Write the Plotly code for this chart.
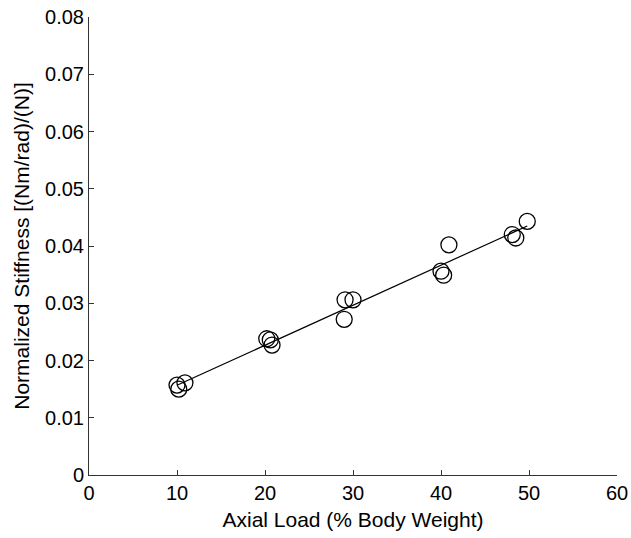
import numpy as np
import plotly.graph_objects as go

load_pct = [10.0, 10.2, 10.9, 20.2, 20.6, 20.8, 29.1, 30.0, 29.0, 40.0, 40.3, 40.9, 48.1, 48.5, 49.8]
stiffness = [0.0157, 0.0150, 0.0161, 0.0238, 0.0236, 0.0227, 0.0306, 0.0306, 0.0272,
             0.0356, 0.0349, 0.0402, 0.0420, 0.0414, 0.0443]

x_ticks = [0, 10, 20, 30, 40, 50, 60]
y_ticks = [0, 0.01, 0.02, 0.03, 0.04, 0.05, 0.06, 0.07, 0.08]
y_tick_text = ["0", "0.01", "0.02", "0.03", "0.04", "0.05", "0.06", "0.07", "0.08"]

slope, intercept = np.polyfit(load_pct, stiffness, 1)
fit_x = [min(load_pct), max(load_pct)]
fit_y = [intercept + slope * v for v in fit_x]

fig = go.Figure()
fig.add_trace(go.Scatter(x=fit_x, y=fit_y, mode="lines",
                         line=dict(color="black", width=1.2), showlegend=False))
fig.add_trace(go.Scatter(x=load_pct, y=stiffness, mode="markers",
                         marker=dict(symbol="circle-open", size=16, color="black",
                                     line=dict(width=1.3, color="black")),
                         showlegend=False))

tick_font = dict(family="Liberation Sans, Arial, sans-serif", size=20, color="black")
title_font = dict(family="Liberation Sans, Arial, sans-serif", size=21, color="black")
fig.update_layout(
    width=631, height=538,
    margin=dict(l=89, r=14, t=17, b=63),
    plot_bgcolor="white", paper_bgcolor="white",
    font=tick_font,
    xaxis=dict(range=[0, 60], tickvals=x_ticks, ticks="inside", ticklen=5,
               showline=True, linecolor="#333", linewidth=1, tickcolor="#333",
               showgrid=False, zeroline=False, mirror=False, automargin=False,
               title=dict(text="Axial Load (% Body Weight)", standoff=9, font=title_font),
               tickfont=tick_font),
    yaxis=dict(range=[0, 0.08], tickvals=y_ticks, ticktext=y_tick_text, ticks="inside", ticklen=5,
               showline=True, linecolor="#333", linewidth=1, tickcolor="#333",
               showgrid=False, zeroline=False, mirror=False, automargin=False,
               title=dict(text="Normalized Stiffness [(Nm/rad)/(N)]", standoff=9, font=title_font),
               tickfont=tick_font),
)

fig.write_html("out.html")
